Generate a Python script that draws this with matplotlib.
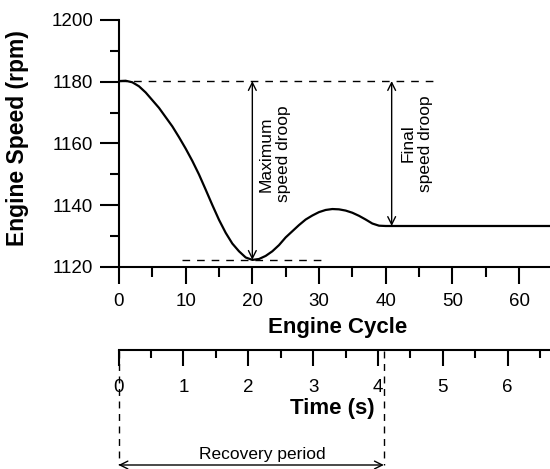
import matplotlib
matplotlib.use("Agg")
import matplotlib.pyplot as plt
from matplotlib.transforms import blended_transform_factory
from matplotlib.ticker import MultipleLocator

plt.rcParams['font.family'] = ['Liberation Sans', 'DejaVu Sans']

# ---- data ----
cycles = [0, 1, 2, 3, 4, 5, 6, 7, 8, 9, 10, 11, 12, 13, 14, 15, 16, 17, 18, 19,
          20, 21, 22, 23, 24, 25, 26, 27, 28, 29, 30, 31, 32, 33, 34, 35, 36, 37,
          38, 39, 40, 65]
speed = [1180.2, 1180.3, 1179.8, 1178.5, 1176.5, 1174.0, 1171.5, 1168.5, 1165.5,
         1162.0, 1158.3, 1154.3, 1149.9, 1145.0, 1140.0, 1135.2, 1131.0, 1127.5,
         1125.0, 1123.0, 1122.2, 1122.5, 1123.5, 1125.0, 1127.0, 1129.5, 1131.5,
         1133.5, 1135.3, 1136.6, 1137.7, 1138.4, 1138.7, 1138.6, 1138.2, 1137.5,
         1136.5, 1135.3, 1134.0, 1133.3, 1133.2, 1133.2]
initial_speed = 1180.2
min_speed = 1122.2
min_cycle = 20
final_speed = 1133.2
final_cycle = 40.9
recovery_end_s = 4.09
cycle_ticks = [0, 10, 20, 30, 40, 50, 60]
speed_ticks = [1120, 1140, 1160, 1180, 1200]
time_ticks = [0, 1, 2, 3, 4, 5, 6]

W, H = 550, 469
fig = plt.figure(figsize=(W / 100, H / 100), dpi=100)

ax = fig.add_axes([119 / W, 1 - 266.7 / H, 1 - 119 / W, (266.7 - 20) / H])
ax.plot(cycles, speed, color='black', lw=1.6, solid_capstyle='butt')
ax.set_xlim(0, 64.65)
ax.set_ylim(1120, 1200)
ax.set_xticks(cycle_ticks)
ax.set_yticks(speed_ticks)
ax.xaxis.set_minor_locator(MultipleLocator(5))
ax.yaxis.set_minor_locator(MultipleLocator(10))
for s in ('top', 'right'):
    ax.spines[s].set_visible(False)
for s in ('left', 'bottom'):
    ax.spines[s].set_linewidth(1.5)
ax.tick_params(axis='y', which='major', direction='out', length=13.7, width=1.5,
               labelsize=13.5, pad=5)
ax.tick_params(axis='y', which='minor', direction='out', length=6.5, width=1.5)
ax.tick_params(axis='x', which='major', direction='out', length=12, width=1.5,
               labelsize=13.5, pad=7)
ax.tick_params(axis='x', which='minor', direction='out', length=7, width=1.5)

ax.set_ylabel('Engine Speed (rpm)', fontsize=16.5, fontweight='bold')
ax.yaxis.set_label_coords(18 / W, 1 - 138 / H, transform=fig.transFigure)
ax.yaxis.label.set_va('center')
ax.set_xlabel('Engine Cycle', fontsize=16, fontweight='bold')
ax.xaxis.set_label_coords(338 / W, 1 - 327 / H, transform=fig.transFigure)
ax.xaxis.label.set_va('center')

dash = (0, (5.5, 5))
ax.plot([0, 47.8], [initial_speed, initial_speed], color='black', lw=1.0, linestyle=dash)
ax.plot([9.4, 30.4], [min_speed, min_speed], color='black', lw=1.0, linestyle=dash)

arrow = dict(arrowstyle='<->', lw=1.0, color='black', shrinkA=0, shrinkB=0,
             mutation_scale=14)
ax.annotate('', xy=(min_cycle, min_speed), xytext=(min_cycle, initial_speed),
            arrowprops=arrow)
ax.annotate('', xy=(final_cycle, final_speed), xytext=(final_cycle, initial_speed),
            arrowprops=arrow)
ax.text(23.4, 1156.5, 'Maximum\nspeed droop', rotation=90, ha='center', va='center',
        multialignment='center', fontsize=12.5)
ax.text(44.7, 1160, 'Final\nspeed droop', rotation=90, ha='center', va='center',
        multialignment='center', fontsize=12.5)

# ---- time axis ----
axt = fig.add_axes([118.5 / W, 1 - 350 / H, 1 - 118.5 / W, 0.0001])
axt.set_xlim(0, (W - 118.5) / 64.87)
axt.set_xticks(time_ticks)
axt.xaxis.set_minor_locator(MultipleLocator(0.5))
axt.set_yticks([])
for s in ('top', 'right', 'left'):
    axt.spines[s].set_visible(False)
axt.spines['bottom'].set_linewidth(1.5)
axt.patch.set_visible(False)
axt.tick_params(axis='x', which='major', direction='out', length=11.5, width=1.5,
                labelsize=13.5, pad=9.5)
axt.tick_params(axis='x', which='minor', direction='out', length=6, width=1.5)
axt.set_xlabel('Time (s)', fontsize=16, fontweight='bold')
axt.xaxis.set_label_coords(332.5 / W, 1 - 408 / H, transform=fig.transFigure)
axt.xaxis.label.set_va('center')

tr = blended_transform_factory(axt.transData, fig.transFigure)
y_top = 1 - 351 / H
y_bot = 1 - 465 / H
for xv in (0, recovery_end_s):
    axt.plot([xv, xv], [y_top, y_bot], transform=tr, color='black', lw=1.0,
             linestyle=(0, (5, 4)), clip_on=False)
axt.annotate('', xy=(0, y_bot), xytext=(recovery_end_s, y_bot),
             xycoords=tr, textcoords=tr, arrowprops=arrow, annotation_clip=False)
axt.text(2.21, 1 - 454 / H, 'Recovery period', transform=tr, ha='center',
         va='center', fontsize=12.5)

fig.savefig('out.png', dpi=100)
